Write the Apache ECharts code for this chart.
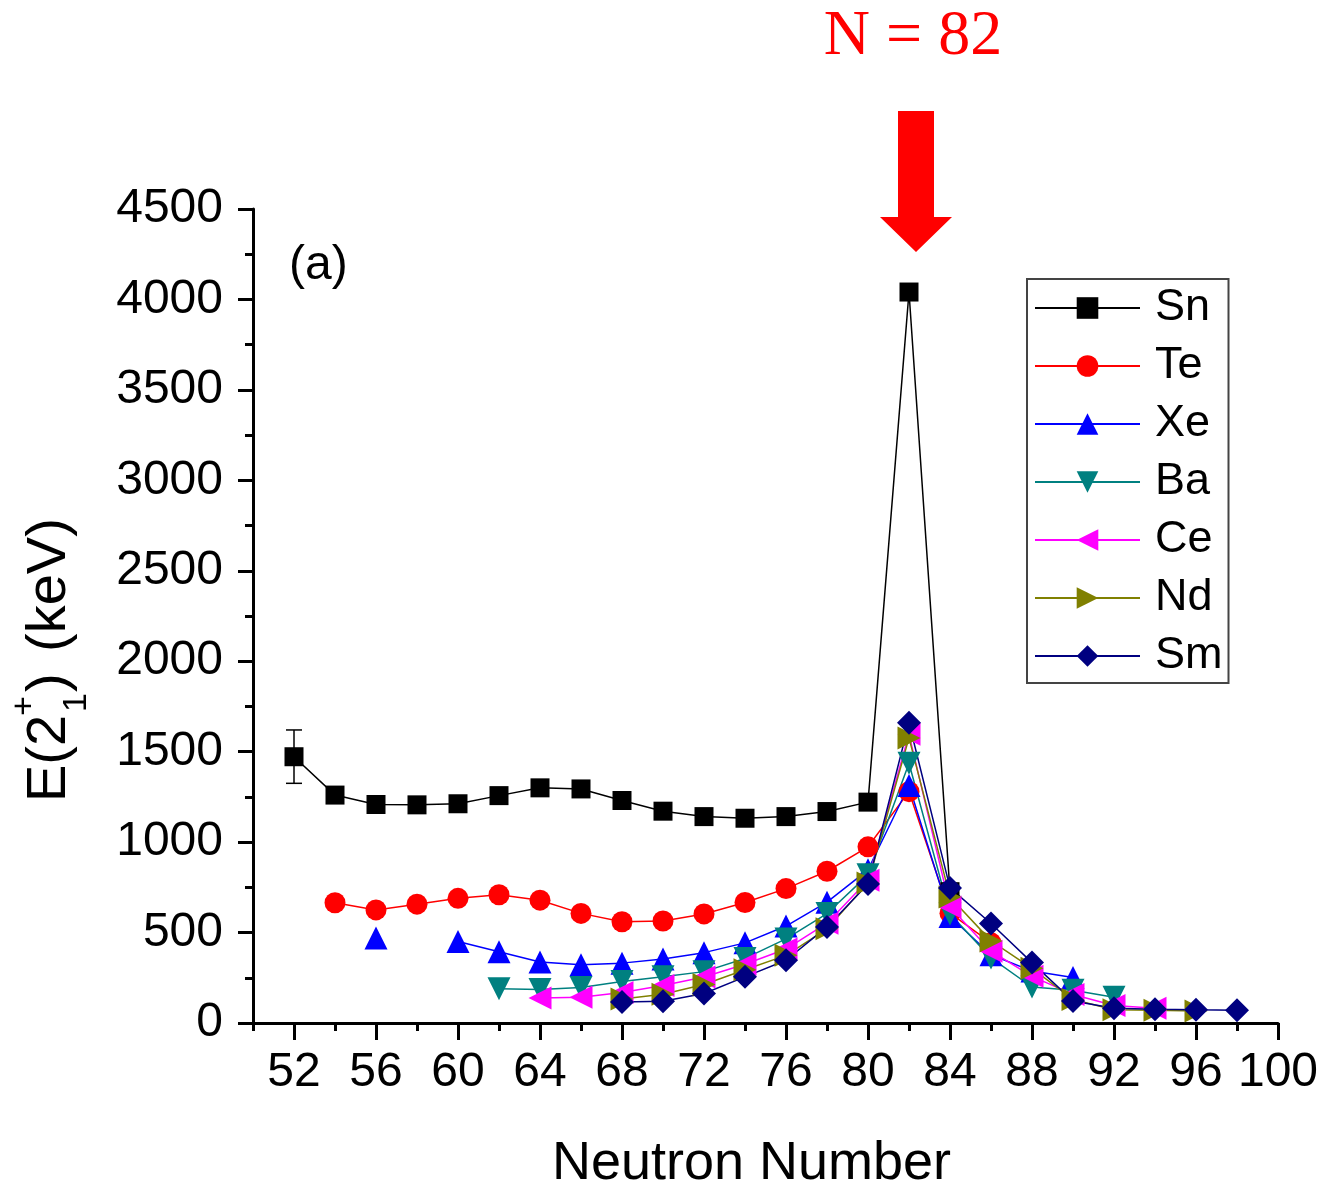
<!DOCTYPE html>
<html><head><meta charset="utf-8">
<script src="https://cdn.jsdelivr.net/npm/echarts@6/dist/echarts.min.js"></script>
<style>html,body{margin:0;padding:0;background:#fff;overflow:hidden}#c{width:1329px;height:1186px}</style>
</head><body><div id="c"></div>
<script>
const FONT = "'Liberation Sans', Arial, Helvetica, sans-serif";
const SERIF = "'Liberation Serif', 'Times New Roman', serif";

// axis ticks
const xMajorTicks = [52,56,60,64,68,72,76,80,84,88,92,96,100];
const xMinorTicks = [50,54,58,62,66,70,74,78,82,86,90,94,98];

// Sn
const snN = [52,54,56,58,60,62,64,66,68,70,72,74,76,78,80,82,84];
const snE = [1472,1260,1208,1206,1212,1257,1300,1294,1230,1171,1141,1132,1141,1169,1221,4041,726];
// Sn error bar
const snErrN = [52];
const snErrLow = [1325];
const snErrHigh = [1620];
// Te
const teN = [54,56,58,60,62,64,66,68,70,72,74,76,78,80,82,84,86];
const teE = [665,625,657,689,709,679,606,560,564,603,666,743,839,974,1279,607,443];
// Xe (gap at 58)
const xeN = [56,58,60,62,64,66,68,70,72,74,76,78,80,82,84,86,88,90];
const xeE = [470,null,450,394,337,322,331,354,389,443,536,668,847,1313,589,377,287,252];
// Ba
const baN = [62,64,66,68,70,72,74,76,78,80,82,84,86,88,90,92];
const baE = [190,185,196,230,256,284,357,465,605,819,1436,602,360,199,181,142];
// Ce
const ceN = [64,66,68,70,72,74,76,78,80,82,84,86,88,90,92,94];
const ceE = [138,142,169,207,254,325,409,552,789,1596,641,397,258,158,97,81];
// Nd
const ndN = [68,70,72,74,76,78,80,82,84,86,88,90,92,94,96];
const ndE = [133,159,213,294,374,521,774,1576,697,454,302,130,73,71,67];
// Sm
const smN = [68,70,72,74,76,78,80,82,84,86,88,90,92,94,96,98];
const smE = [116,120,163,255,347,531,768,1660,747,550,334,122,82,76,73,71];

function mk(name, Ns, Es, symbol, size, color, rotate) {
  return {
    type: 'line', name: name,
    data: Ns.map((n, i) => [n, Es[i] == null ? '-' : Es[i]]),
    symbol: symbol, symbolSize: size, symbolRotate: rotate || 0,
    showAllSymbol: true, connectNulls: false,
    itemStyle: { color: color, opacity: 1 },
    lineStyle: { color: color, width: 1.5 },
    emphasis: { disabled: true },
    z: 3
  };
}

const chart = echarts.init(document.getElementById('c'), null, { renderer: 'canvas' });
const tickLine = { color: '#000', width: 3 };

chart.setOption({
  animation: false,
  backgroundColor: '#fff',
  grid: { left: 253, right: 51, top: 209, bottom: 163, containLabel: false, outerBoundsMode: 'none' },
  legend: {
    orient: 'vertical', left: 1027, top: 279,
    data: ['Sn','Te','Xe','Ba','Ce','Nd','Sm'],
    itemWidth: 105, itemHeight: 27, itemGap: 12,
    padding: [6, 6, 4, 7],
    borderColor: '#444', borderWidth: 2,
    backgroundColor: '#fff',
    textStyle: { fontSize: 45, fontFamily: FONT, color: '#000', lineHeight: 46, padding: [0, 0, 0, 10] }
  },
  xAxis: [
    {
      type: 'value', min: 50, max: 100, position: 'bottom',
      axisLine: { show: true, lineStyle: tickLine },
      axisTick: { show: true, customValues: xMajorTicks, length: 17, lineStyle: tickLine },
      axisLabel: { customValues: xMajorTicks, fontSize: 48, fontFamily: FONT, color: '#000', margin: 26 },
      splitLine: { show: false },
      name: 'Neutron Number', nameLocation: 'middle', nameGap: 114,
      nameTextStyle: { fontSize: 54, fontFamily: FONT, color: '#000', padding: [0, 28, 0, 0] }
    },
    {
      type: 'value', min: 50, max: 100, position: 'top', offset: -814,
      axisLine: { show: false },
      axisTick: { show: true, inside: true, customValues: xMinorTicks, length: 8, lineStyle: tickLine },
      axisLabel: { show: false },
      splitLine: { show: false }
    }
  ],
  yAxis: {
    type: 'value', min: 0, max: 4500, interval: 500,
    axisLine: { show: true, lineStyle: tickLine },
    axisTick: { show: true, length: 15, lineStyle: tickLine },
    minorTick: { show: true, splitNumber: 2, length: 8, lineStyle: tickLine },
    axisLabel: { fontSize: 48, fontFamily: FONT, color: '#000', margin: 30, formatter: v => String(v) },
    splitLine: { show: false }
  },
  series: [
    {
      type: 'custom', name: 'SnErr',
      data: snErrN.map((n, i) => [n, snErrLow[i], snErrHigh[i]]),
      renderItem: function (params, api) {
        const x = api.value(0);
        const lo = api.coord([x, api.value(1)]);
        const hi = api.coord([x, api.value(2)]);
        const w = 8;
        const st = { stroke: '#000', lineWidth: 1.5 };
        return { type: 'group', children: [
          { type: 'line', shape: { x1: lo[0], y1: lo[1], x2: hi[0], y2: hi[1] }, style: st },
          { type: 'line', shape: { x1: lo[0] - w, y1: lo[1], x2: lo[0] + w, y2: lo[1] }, style: st },
          { type: 'line', shape: { x1: hi[0] - w, y1: hi[1], x2: hi[0] + w, y2: hi[1] }, style: st }
        ] };
      },
      z: 2
    },
    mk('Sn', snN, snE, 'rect', 19, '#000000'),
    mk('Te', teN, teE, 'circle', 21, '#ff0000'),
    mk('Xe', xeN, xeE, 'triangle', 23, '#0000ff'),
    mk('Ba', baN, baE, 'triangle', 23, '#008080', 180),
    mk('Ce', ceN, ceE, 'triangle', 23, '#ff00ff', 90),
    mk('Nd', ndN, ndE, 'triangle', 23, '#808000', -90),
    mk('Sm', smN, smE, 'diamond', 24, '#000080')
  ]
});

// annotations
const ax82 = chart.convertToPixel({ xAxisIndex: 0 }, 82);
chart.setOption({
  graphic: [
    {
      type: 'text', id: 'n82', x: ax82 + 4, y: 37,
      style: { text: 'N = 82', font: '64px ' + SERIF, fill: '#ff0000', align: 'center', verticalAlign: 'middle' }
    },
    {
      type: 'polygon', id: 'arrow',
      shape: { points: [
        [ax82 - 11, 111], [ax82 + 25, 111], [ax82 + 25, 217], [ax82 + 43, 217],
        [ax82 + 7, 252], [ax82 - 29, 217], [ax82 - 11, 217]
      ] },
      style: { fill: '#ff0000' }
    },
    {
      type: 'text', id: 'panel', x: 289, y: 266,
      style: { text: '(a)', font: '48px ' + FONT, fill: '#000', align: 'left', verticalAlign: 'middle' }
    },
    {
      type: 'group', id: 'ytitle', x: 70, y: 802, rotation: Math.PI / 2,
      children: [
        { type: 'text', x: 0, y: -20, style: { text: 'E(2', font: '56px ' + FONT, fill: '#000', align: 'left', verticalAlign: 'middle' } },
        { type: 'text', x: 86, y: -45, style: { text: '+', font: '34px ' + FONT, fill: '#000', align: 'left', verticalAlign: 'middle' } },
        { type: 'text', x: 90, y: 7, style: { text: '1', font: '34px ' + FONT, fill: '#000', align: 'left', verticalAlign: 'middle' } },
        { type: 'text', x: 110, y: -20, style: { text: ')', font: '56px ' + FONT, fill: '#000', align: 'left', verticalAlign: 'middle' } },
        { type: 'text', x: 150, y: -20, style: { text: '(keV)', font: '56px ' + FONT, fill: '#000', align: 'left', verticalAlign: 'middle' } }
      ]
    }
  ]
});
</script>
</body></html>
